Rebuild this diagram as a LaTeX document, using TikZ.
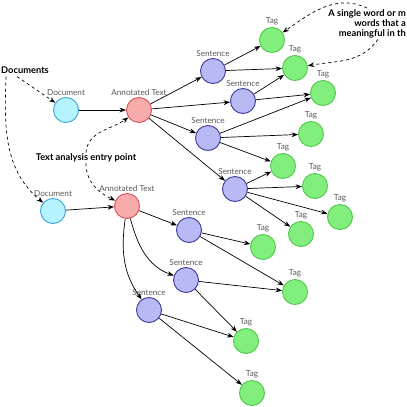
\documentclass[tikz,border=0pt]{standalone}
\usepackage{fontspec}
\setsansfont{Lato}
\usetikzlibrary{arrows.meta}

\definecolor{docfill}{HTML}{B5F4FF}
\definecolor{docline}{HTML}{3FA3D8}
\definecolor{atfill}{HTML}{F7ABAB}
\definecolor{atline}{HTML}{DE4F5C}
\definecolor{sentfill}{HTML}{B9B9F6}
\definecolor{sentline}{HTML}{3B3B9A}
\definecolor{tagfill}{HTML}{82EE7E}
\definecolor{tagline}{HTML}{4EC94A}

\begin{document}
\begin{tikzpicture}[x=1pt, y=1pt, font=\sffamily,
  >={Stealth[length=6.5pt,width=4.8pt]},
  every label/.style={text=black!65, font=\sffamily\fontsize{8.2}{9}\selectfont, inner sep=1.5pt},
  dot/.style={circle, minimum size=25pt, inner sep=0pt, line width=0.9pt},
  docnode/.style={dot, draw=docline, fill=docfill, label=above:Document},
  atnode/.style={dot, draw=atline, fill=atfill, label=above:Annotated Text},
  sentnode/.style={dot, draw=sentline, fill=sentfill, label=above:Sentence},
  tagnode/.style={dot, draw=tagline, fill=tagfill, label=above:Tag},
  edge/.style={->, line width=0.7pt},
  hint/.style={->, dashed, line width=0.7pt},
  remark/.style={font=\sffamily\bfseries\fontsize{9.3}{10.2}\selectfont, inner sep=1pt}
]
  \useasboundingbox (0,0) rectangle (407,-407);

  % upper tree
  \node[docnode]  (d1)  at ( 66,-110) {};
  \node[atnode]   (at1) at (139,-110) {};
  \node[sentnode] (s1a) at (213, -71) {};
  \node[sentnode] (s1b) at (243,-101) {};
  \node[sentnode] (s1c) at (208,-138) {};
  \node[sentnode] (s1d) at (235,-189) {};
  \node[tagnode]  (t1)  at (272, -40) {};
  \node[tagnode]  (t2)  at (295, -68) {};
  \node[tagnode]  (t3)  at (323, -93) {};
  \node[tagnode]  (t4)  at (311,-134) {};
  \node[tagnode]  (t5)  at (283,-166) {};
  \node[tagnode]  (t6)  at (315,-186) {};
  \node[tagnode]  (t7)  at (340,-217) {};
  \node[tagnode]  (t8)  at (301,-234) {};

  % lower tree
  \node[docnode]  (d2)  at ( 53,-211) {};
  \node[atnode]   (at2) at (127,-206) {};
  \node[sentnode] (s2a) at (189,-230) {};
  \node[sentnode] (s2b) at (186,-280) {};
  \node[sentnode] (s2c) at (149,-310) {};
  \node[tagnode]  (t9)  at (263,-247) {};
  \node[tagnode]  (t10) at (295,-292) {};
  \node[tagnode]  (t11) at (246,-341) {};
  \node[tagnode]  (t12) at (252,-393) {};

  % connectors
  \foreach \a/\b in {d1/at1, at1/s1a, at1/s1b, at1/s1c, at1/s1d,
      s1a/t1, s1a/t2, s1b/t2, s1b/t3, s1c/t3, s1c/t4, s1c/t5,
      s1d/t5, s1d/t6, s1d/t7, s1d/t8,
      d2/at2, at2/s2a, s2a/t9, s2a/t10, s2b/t10, s2b/t11,
      s2c/t11, s2c/t12}
    \draw[edge] (\a) -- (\b);
  \draw[edge] (at2) to[out=-75, in=160] (s2b);
  \draw[edge] (at2) to[out=-98, in=125] (s2c);

  % annotations
  \node[remark] (docs)  at (25,-70) {Documents};
  \node[remark] (entry) at (86,-158) {Text analysis entry point};
  \node[remark, align=right, anchor=north east] (note) at (407,-8)
      {A single word or m\\words that a\\meaningful in th};

  \draw[hint] ([xshift=17pt,yshift=-2pt]docs.south west) -- (d1);
  \draw[hint] ([xshift=6pt,yshift=-2pt]docs.south west) to[out=-92, in=140] (d2);
  \draw[hint] (entry.north) to[out=85, in=-145] (at1);
  \draw[hint] (entry.south) to[out=-90, in=155] (at2);
  \draw[hint] ([xshift=-40pt]note.north east) to[out=155, in=35] (t1);
  \draw[hint] ([xshift=-29pt]note.south east) to[out=-125, in=10] (t2);

\end{tikzpicture}
\end{document}
